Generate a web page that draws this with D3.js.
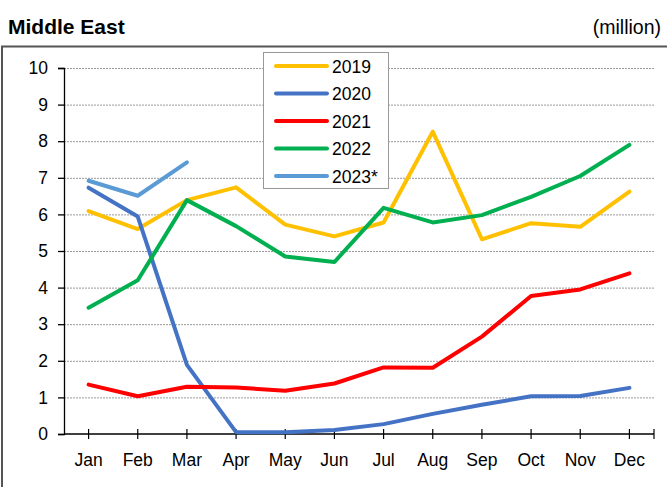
<!DOCTYPE html>
<html>
<head>
<meta charset="utf-8">
<script src="https://cdn.jsdelivr.net/npm/d3@7"></script>
<style>
  html, body { margin: 0; padding: 0; background: #fff; }
  svg { display: block; font-family: "Liberation Sans", Arial, sans-serif; }
</style>
</head>
<body>
<svg id="chart" width="667" height="487"></svg>
<script>
// Monthly visitor arrivals, Middle East (million)
const months = ["Jan","Feb","Mar","Apr","May","Jun","Jul","Aug","Sep","Oct","Nov","Dec"];
const yTicks = [0,1,2,3,4,5,6,7,8,9,10];

const v2019 = [6.09, 5.60, 6.39, 6.74, 5.72, 5.40, 5.78, 8.26, 5.32, 5.76, 5.66, 6.62];
const v2020 = [6.73, 5.94, 1.89, 0.05, 0.05, 0.11, 0.27, 0.55, 0.80, 1.03, 1.04, 1.26];
const v2021 = [1.35, 1.03, 1.29, 1.27, 1.18, 1.38, 1.82, 1.81, 2.66, 3.77, 3.95, 4.39];
const v2022 = [3.45, 4.20, 6.39, 5.68, 4.85, 4.70, 6.18, 5.78, 5.98, 6.48, 7.05, 7.90];
const v2023 = [6.92, 6.51, 7.42];

const seriesNames = ["2019", "2020", "2021", "2022", "2023*"];
const seriesColors = ["#FFC000", "#4472C4", "#FF0000", "#00B050", "#5B9BD5"];
const seriesValues = [v2019, v2020, v2021, v2022, v2023];

const svg = d3.select("#chart");
const plot = { left: 64, right: 654, top: 68, bottom: 434 };

// outer frame (top and left edges)
svg.append("path")
  .attr("d", `M2,487 L2,46.5 L667,46.5`)
  .attr("fill", "none").attr("stroke", "#555").attr("stroke-width", 2);

svg.append("text").attr("x", 8).attr("y", 34)
  .attr("font-size", 21).attr("font-weight", "bold").text("Middle East");
svg.append("text").attr("x", 661).attr("y", 34).attr("text-anchor", "end")
  .attr("font-size", 19.5).text("(million)");

const x = d3.scaleBand().domain(months).range([plot.left, plot.right]);
const xc = m => x(m) + x.bandwidth() / 2;
const y = d3.scaleLinear().domain([0, 10]).range([plot.bottom, plot.top]);

// horizontal dotted gridlines
svg.append("g").selectAll("line").data(yTicks.filter(t => t > 0)).join("line")
  .attr("x1", plot.left).attr("x2", plot.right)
  .attr("y1", d => y(d) + 0.5).attr("y2", d => y(d) + 0.5)
  .attr("stroke", "#999").attr("stroke-width", 1).attr("stroke-dasharray", "2,1");

// y axis
const yAxis = svg.append("g").attr("transform", `translate(${plot.left},0)`)
  .call(d3.axisLeft(y).tickValues(yTicks).tickSize(6).tickPadding(10).tickFormat(d3.format("d")));
yAxis.select(".domain").attr("stroke", "#000").attr("stroke-width", 1.3);
yAxis.selectAll(".tick line").attr("stroke", "#000").attr("stroke-width", 1.3);
yAxis.selectAll("text").attr("font-size", 17.5).attr("fill", "#000")
  .attr("font-family", "Liberation Sans, Arial, sans-serif");

// x axis: ticks at category centres plus the right end
const xAxis = svg.append("g").attr("transform", `translate(0,${plot.bottom})`);
xAxis.append("line").attr("x1", plot.left).attr("x2", plot.right)
  .attr("y1", 0).attr("y2", 0).attr("stroke", "#000").attr("stroke-width", 1.3);
const tickXs = months.map(xc).concat([plot.right]);
xAxis.selectAll("line.tk").data(tickXs).join("line").attr("class", "tk")
  .attr("x1", d => d).attr("x2", d => d).attr("y1", -5).attr("y2", 5)
  .attr("stroke", "#000").attr("stroke-width", 1.2);
xAxis.selectAll("text").data(months).join("text")
  .attr("x", d => xc(d)).attr("y", 32).attr("text-anchor", "middle")
  .attr("font-size", 17.5).text(d => d);

// series lines
const line = d3.line().x((d, i) => xc(months[i])).y(d => y(d));
svg.append("g").selectAll("path").data(seriesValues).join("path")
  .attr("d", d => line(d))
  .attr("fill", "none")
  .attr("stroke", (d, i) => seriesColors[i])
  .attr("stroke-width", 4)
  .attr("stroke-linejoin", "round")
  .attr("stroke-linecap", "round");

// legend
const lg = svg.append("g");
lg.append("rect").attr("x", 263.5).attr("y", 52.5).attr("width", 125).attr("height", 136)
  .attr("fill", "#fff").attr("stroke", "#999").attr("stroke-width", 1);
const rows = lg.selectAll("g").data(seriesNames).join("g")
  .attr("transform", (d, i) => `translate(0,${66 + i * 27.5})`);
rows.append("line").attr("x1", 276).attr("x2", 327).attr("y1", 0).attr("y2", 0)
  .attr("stroke", (d, i) => seriesColors[i]).attr("stroke-width", 4).attr("stroke-linecap", "round");
rows.append("text").attr("x", 332).attr("y", 6.5).attr("font-size", 17.5).text(d => d);
</script>
</body>
</html>
